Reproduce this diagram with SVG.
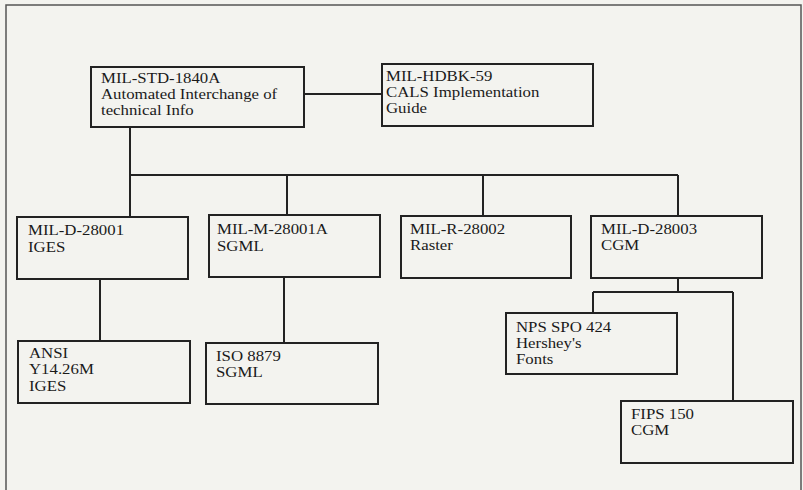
<svg xmlns="http://www.w3.org/2000/svg" width="803" height="490" viewBox="0 0 803 490">
<style>
.bg{fill:#f3f3ef}
.frame{fill:none;stroke:#555;stroke-width:1.5}
.box{fill:#f3f3ef;stroke:#222;stroke-width:2}
.conn{fill:none;stroke:#222;stroke-width:2}
text{font-family:"Liberation Serif","Times New Roman",serif;font-size:14px;fill:#1a1a1a}
</style>
<rect class="bg" x="0" y="0" width="803" height="490"/>
<path class="frame" d="M6,492 V5 H801 V492"/>
<g id="connectors">
<path class="conn" d="M304,94 H382"/>
<path class="conn" d="M130,127 V217"/>
<path class="conn" d="M130,175 H678"/>
<path class="conn" d="M287,175 V215"/>
<path class="conn" d="M483,175 V216"/>
<path class="conn" d="M678,175 V216"/>
<path class="conn" d="M678,278 V292"/>
<path class="conn" d="M593,292 H733"/>
<path class="conn" d="M593,292 V313"/>
<path class="conn" d="M733,292 V401"/>
<path class="conn" d="M100,279 V341"/>
<path class="conn" d="M284,277 V343"/>
</g>
<g id="n1840">
<rect class="box" x="91" y="67" width="213" height="60"/>
<text transform="matrix(1.2,0,0,1,101,83)">MIL-STD-1840A</text>
<text transform="matrix(1.2,0,0,1,101,99)">Automated Interchange of</text>
<text transform="matrix(1.2,0,0,1,101,115)">technical Info</text>
</g>
<g id="nhdbk59">
<rect class="box" x="382" y="64" width="211" height="62"/>
<text transform="matrix(1.2,0,0,1,386,81)">MIL-HDBK-59</text>
<text transform="matrix(1.2,0,0,1,386,97)">CALS Implementation</text>
<text transform="matrix(1.2,0,0,1,386,113)">Guide</text>
</g>
<g id="n28001">
<rect class="box" x="17" y="217" width="171" height="62"/>
<text transform="matrix(1.2,0,0,1,28,235)">MIL-D-28001</text>
<text transform="matrix(1.2,0,0,1,28,252)">IGES</text>
</g>
<g id="n28001a">
<rect class="box" x="209" y="215" width="171" height="62"/>
<text transform="matrix(1.2,0,0,1,217,234)">MIL-M-28001A</text>
<text transform="matrix(1.2,0,0,1,217,251)">SGML</text>
</g>
<g id="n28002">
<rect class="box" x="401" y="216" width="170" height="62"/>
<text transform="matrix(1.2,0,0,1,410,234)">MIL-R-28002</text>
<text transform="matrix(1.2,0,0,1,410,250)">Raster</text>
</g>
<g id="n28003">
<rect class="box" x="591" y="216" width="171" height="62"/>
<text transform="matrix(1.2,0,0,1,601,234)">MIL-D-28003</text>
<text transform="matrix(1.2,0,0,1,601,250)">CGM</text>
</g>
<g id="nansi">
<rect class="box" x="18" y="341" width="172" height="62"/>
<text transform="matrix(1.2,0,0,1,29,358)">ANSI</text>
<text transform="matrix(1.2,0,0,1,29,374)">Y14.26M</text>
<text transform="matrix(1.2,0,0,1,29,391)">IGES</text>
</g>
<g id="niso">
<rect class="box" x="206" y="343" width="172" height="61"/>
<text transform="matrix(1.2,0,0,1,216,361)">ISO 8879</text>
<text transform="matrix(1.2,0,0,1,216,377)">SGML</text>
</g>
<g id="nnps">
<rect class="box" x="506" y="313" width="171" height="61"/>
<text transform="matrix(1.2,0,0,1,516,332)">NPS SPO 424</text>
<text transform="matrix(1.2,0,0,1,516,348)">Hershey's</text>
<text transform="matrix(1.2,0,0,1,516,364)">Fonts</text>
</g>
<g id="nfips">
<rect class="box" x="621" y="401" width="172" height="62"/>
<text transform="matrix(1.2,0,0,1,631,419)">FIPS 150</text>
<text transform="matrix(1.2,0,0,1,631,435)">CGM</text>
</g>
</svg>
